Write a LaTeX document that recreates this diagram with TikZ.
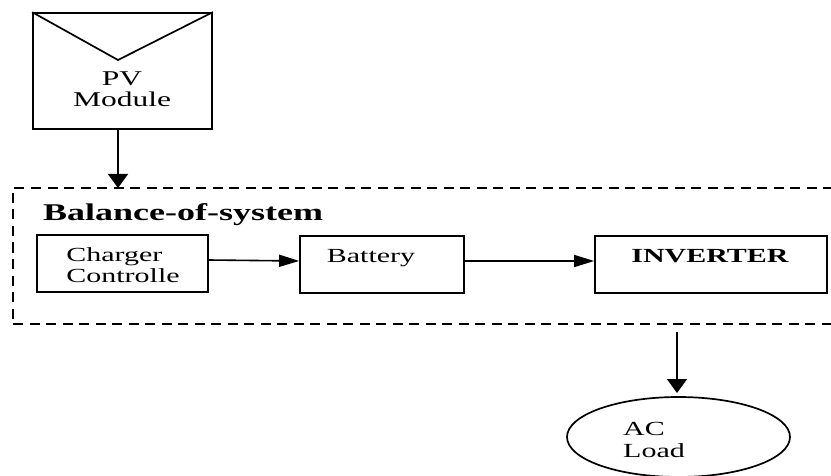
\documentclass[tikz,border=0pt]{standalone}
\usepackage{fontspec}
\setmainfont{Liberation Serif}[FakeStretch=1.5]
\usetikzlibrary{shapes.geometric, arrows.meta, positioning}
\tikzstyle{block} = [draw, line width=1.7pt, rectangle, inner sep=0pt, align=center, font=\fontsize{20}{21.5}\selectfont]
\tikzstyle{txt} = [inner sep=0pt, align=center, font=\fontsize{20}{21.5}\selectfont]
\tikzstyle{harrow} = [line width=1.6pt, -{Triangle[length=20pt, width=12pt]}]
\tikzstyle{varrow} = [line width=1.6pt, -{Triangle[length=14pt, width=20pt]}]
\tikzstyle{dashline} = [line width=2pt, dash pattern=on 10pt off 6.5pt]

\begin{document}
\begin{tikzpicture}[x=1pt, y=-1pt]
    \useasboundingbox (0,0) rectangle (831,476);
    \clip (0,0) rectangle (831,476);
    % PV module
    \node[block, minimum width=179pt, minimum height=116pt] (pv) at (122.5, 71) {};
    \draw[line width=1.7pt] (pv.north west) -- (118, 60) -- (pv.north east);
    \node[txt, font=\fontsize{21}{21}\selectfont] (pvtext) at (122, 89) {PV\\Module};
    % balance of system
    \node[dashline, draw, rectangle, minimum width=837pt, minimum height=136pt] (bos) at (431.5, 256) {};
    \node[anchor=base west, inner sep=0pt, font=\fontsize{24}{24}\selectfont\bfseries] (bostitle) at (43, 221) {Balance-of-system};
    \coordinate (pvout) at (118, 129);
    \coordinate (bostop) at (118, 188);
    \draw[varrow] (pvout) -- (bostop);
    \node[block, minimum width=171pt, minimum height=57pt] (charger) at (122.5, 263.5) {};
    \node[txt, align=left] (chargertext) at (123, 265) {Charger\\Controlle};
    \node[block, minimum width=164pt, minimum height=57pt] (battery) at (382, 264.5) {};
    \node[txt] (batterytext) at (371, 258) {Battery};
    \node[block, minimum width=232pt, minimum height=57pt] (inverter) at (711, 264.5) {};
    \node[txt, font=\fontsize{20}{21.5}\selectfont\bfseries] (invertertext) at (710, 256.5) {INVERTER};
    \draw[harrow] ([yshift=3.5pt]charger.east) -- ([yshift=3.5pt]battery.west);
    \draw[harrow] ([yshift=3.5pt]battery.east) -- ([yshift=3.5pt]inverter.west);
    % load
    \node[draw, ellipse, line width=1.7pt, inner sep=0pt, minimum width=223pt, minimum height=80pt] (load) at (678.5, 437) {};
    \node[txt, align=left] (loadtext) at (654, 440) {AC\\Load};
    \coordinate (bosout) at (677, 332);
    \coordinate (loadin) at (677, 393);
    \draw[varrow] (bosout) -- (loadin);
\end{tikzpicture}
\end{document}
